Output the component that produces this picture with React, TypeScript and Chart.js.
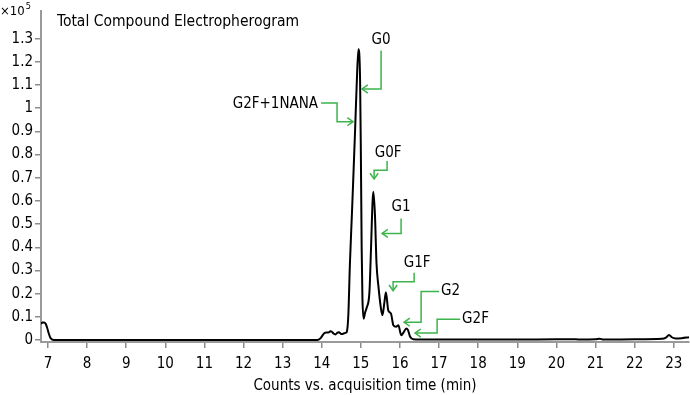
import React, { useEffect, useRef } from "react";
import { Chart, registerables } from "chart.js";

Chart.register(...registerables);

// Acquisition time (min)
const times = [
  6.82, 6.86, 6.9, 6.94, 6.98, 7.02, 7.06, 7.1, 7.15, 7.25, 8, 9, 10, 11, 12, 13,
  13.85, 13.92, 13.97, 14.02, 14.07, 14.12, 14.17, 14.22, 14.26, 14.3, 14.35, 14.4,
  14.44, 14.48, 14.52, 14.57, 14.62, 14.64, 14.68, 14.72, 14.77, 14.8, 14.85, 14.895,
  14.937, 14.98, 15.0, 15.02, 15.04, 15.07, 15.11, 15.15, 15.22, 15.26, 15.3, 15.32,
  15.36, 15.4, 15.45, 15.51, 15.55, 15.6, 15.64, 15.7, 15.77, 15.83, 15.9, 15.96,
  16.03, 16.1, 16.16, 16.2, 16.26, 16.34, 16.5, 17, 18, 19, 20, 20.5, 20.6, 21,
  21.1, 21.2, 22, 22.7, 22.8, 22.88, 22.95, 23.05, 23.2, 23.39,
];
// Counts (x10^5)
const counts = [
  0.07, 0.076, 0.076, 0.07, 0.052, 0.028, 0.01, 0.003, 0.0005, 0, 0, 0, 0, 0, 0, 0,
  0, 0.002, 0.008, 0.02, 0.03, 0.033, 0.032, 0.038, 0.036, 0.028, 0.024, 0.032,
  0.034, 0.028, 0.026, 0.029, 0.032, 0.035, 0.11, 0.33, 0.54, 0.67, 0.895, 1.11,
  1.255, 1.12, 0.8, 0.4, 0.18, 0.092, 0.12, 0.14, 0.21, 0.4, 0.6, 0.64,
  0.54, 0.33, 0.23, 0.14, 0.107, 0.16, 0.206, 0.128, 0.114, 0.064, 0.057, 0.064,
  0.021, 0.035, 0.05, 0.045, 0.014, 0.003, 0.002, 0.002, 0.002, 0.002, 0.003, 0.003, 0.002, 0.003,
  0.006, 0.002, 0.003, 0.005, 0.01, 0.022, 0.012, 0.007, 0.008, 0.012,
];

const xTicks = [7, 8, 9, 10, 11, 12, 13, 14, 15, 16, 17, 18, 19, 20, 21, 22, 23];
const yTicks = [0, 0.1, 0.2, 0.3, 0.4, 0.5, 0.6, 0.7, 0.8, 0.9, 1, 1.1, 1.2, 1.3];

const chartTitle = "Total Compound Electropherogram";
const xAxisTitle = "Counts vs. acquisition time (min)";

// Peak annotations, in data coordinates (time, counts x10^5)
const peakLabels = ["G0", "G2F+1NANA", "G0F", "G1", "G1F", "G2", "G2F"];
const labelAnchors = [
  [15.517, 1.292, "center"],
  [13.905, 1.019, "right"],
  [15.696, 0.806, "center"],
  [16.028, 0.575, "center"],
  [16.437, 0.332, "center"],
  [17.051, 0.209, "left"],
  [17.588, 0.0895, "left"],
];
const calloutPaths = [
  [[15.517, 1.249], [15.517, 1.083], [15.031, 1.083]],
  [[13.982, 1.023], [14.391, 1.023], [14.391, 0.942], [14.8, 0.942]],
  [[15.67, 0.772], [15.67, 0.733], [15.338, 0.733], [15.338, 0.695]],
  [[16.028, 0.524], [16.028, 0.46], [15.542, 0.46]],
  [[16.361, 0.29], [16.361, 0.251], [15.824, 0.251], [15.824, 0.213]],
  [[17.0, 0.209], [16.54, 0.209], [16.54, 0.077], [16.105, 0.077]],
  [[17.537, 0.0895], [16.949, 0.0895], [16.949, 0.03], [16.386, 0.03]],
];

const FONT = "'Liberation Sans Narrow', 'DejaVu Sans Condensed', 'Roboto Condensed', 'Liberation Sans', sans-serif";
const GREEN = "#3cb44b";

export default function App() {
  const ref = useRef<HTMLCanvasElement>(null);

  useEffect(() => {
    document.body.style.margin = "0";
    if (!ref.current) return;

    const overlay = {
      id: "overlay",
      afterDraw(chart: any) {
        const ctx = chart.ctx;
        const xs = chart.scales.x;
        const ys = chart.scales.y;
        ctx.save();
        // chart title
        ctx.fillStyle = "#000";
        ctx.font = `15.5px ${FONT}`;
        ctx.textAlign = "left";
        ctx.textBaseline = "alphabetic";
        ctx.fillText(chartTitle, 57, 26);
        // x10^5
        ctx.font = `13px ${FONT}`;
        ctx.fillText("\u00d710", 0, 15);
        const w = ctx.measureText("\u00d710").width;
        ctx.font = `9px ${FONT}`;
        ctx.fillText("5", w + 1, 9);

        // callouts
        ctx.strokeStyle = GREEN;
        ctx.lineWidth = 1.5;
        ctx.lineJoin = "miter";
        calloutPaths.forEach((path) => {
          const pts = path.map(([t, v]) => [xs.getPixelForValue(t), ys.getPixelForValue(v)]);
          ctx.beginPath();
          pts.forEach(([px, py], i) => (i === 0 ? ctx.moveTo(px, py) : ctx.lineTo(px, py)));
          ctx.stroke();
          const [x1, y1] = pts[pts.length - 2];
          const [x2, y2] = pts[pts.length - 1];
          const ang = Math.atan2(y2 - y1, x2 - x1);
          const L = 7;
          const spread = 0.62;
          ctx.beginPath();
          ctx.moveTo(x2 - L * Math.cos(ang - spread), y2 - L * Math.sin(ang - spread));
          ctx.lineTo(x2, y2);
          ctx.lineTo(x2 - L * Math.cos(ang + spread), y2 - L * Math.sin(ang + spread));
          ctx.stroke();
        });
        // labels
        ctx.fillStyle = "#000";
        ctx.font = `15px ${FONT}`;
        ctx.textBaseline = "middle";
        peakLabels.forEach((txt, i) => {
          const [t, v, align] = labelAnchors[i] as [number, number, CanvasTextAlign];
          ctx.textAlign = align;
          ctx.fillText(txt, xs.getPixelForValue(t), ys.getPixelForValue(v));
        });
        ctx.restore();
      },
    };

    const chart = new Chart(ref.current, {
      type: "line",
      data: {
        datasets: [
          {
            data: times.map((t, i) => ({ x: t, y: counts[i] })),
            borderColor: "#000",
            borderWidth: 2,
            pointRadius: 0,
            cubicInterpolationMode: "monotone",
            fill: false,
          },
        ],
      },
      options: {
        responsive: false,
        animation: false,
        layout: { padding: { top: 7, right: 1, left: 0, bottom: 0 } },
        plugins: { legend: { display: false }, tooltip: { enabled: false } },
        scales: {
          x: {
            type: "linear",
            min: 6.821,
            max: 23.39,
            afterBuildTicks(s: any) {
              s.ticks = xTicks.map((v) => ({ value: v }));
            },
            afterFit(s: any) {
              s.height = 53;
            },
            grid: { drawOnChartArea: false, drawTicks: true, tickLength: 6, color: "#8c8c8c", lineWidth: 1.5 },
            border: { color: "#9a9a9a", width: 2 },
            ticks: {
              font: { family: FONT, size: 15 },
              color: "#000",
              padding: 7,
              maxRotation: 0,
              autoSkip: false,
              callback: (v: any) => String(v),
            },
            title: {
              display: true,
              text: xAxisTitle,
              font: { family: FONT, size: 15 },
              color: "#000",
              padding: { top: 4, bottom: 0 },
            },
          },
          y: {
            type: "linear",
            min: -0.0085,
            max: 1.4195,
            afterBuildTicks(s: any) {
              s.ticks = yTicks.map((v) => ({ value: v }));
            },
            afterFit(s: any) {
              s.width = 41;
            },
            grid: { drawOnChartArea: false, drawTicks: true, tickLength: 6, color: "#8c8c8c", lineWidth: 1.5 },
            border: { color: "#9a9a9a", width: 2 },
            ticks: {
              font: { family: FONT, size: 15 },
              color: "#000",
              padding: 2,
              autoSkip: false,
              callback: (v: any) => String(Math.round(v * 10) / 10),
            },
          },
        },
      },
      plugins: [overlay],
    } as any);

    return () => chart.destroy();
  }, []);

  return (
    <div style={{ width: 690, height: 395 }}>
      <canvas ref={ref} width={690} height={395} style={{ display: "block" }} />
    </div>
  );
}
